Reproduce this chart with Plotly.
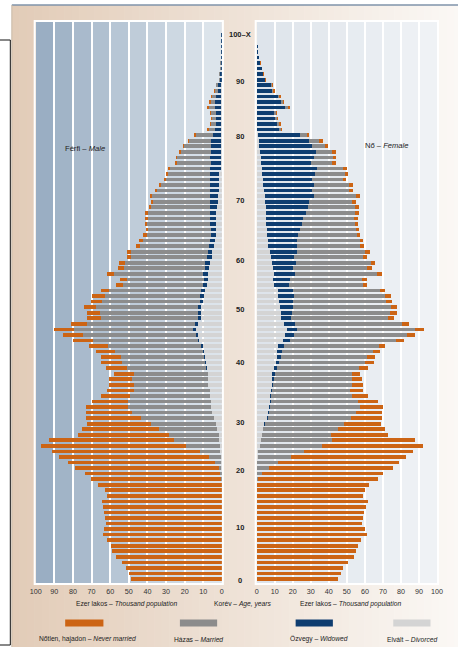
import plotly.graph_objects as go

W_FIG, H = 465, 647
# horizontal correction observed between page pixels and the photographed picture
SX, OX = 0.968, 7.2

ages = list(range(0, 101))
age_tick_text = ["0", "10", "20", "30", "40", "50", "60", "70", "80", "90", "100–X"]
x_ticks = [0, 10, 20, 30, 40, 50, 60, 70, 80, 90, 100]

# Male, thousand persons by age 0..100
male_never = [48.8, 49.7, 51.4, 53.7, 57.0, 58.8, 59.5, 61.5, 64.0, 63.1,
              62.0, 62.7, 63.1, 63.7, 64.6, 61.7, 62.7, 66.5, 70.2, 72.6,
              77.5, 79.2, 80.6, 79.3, 77.8, 66.9, 49.0, 41.3, 34.2, 29.8,
              25.0, 22.6, 19.3, 15.7, 14.5, 13.2, 12.5, 10.8, 11.0, 11.2,
              11.0, 10.3, 10.7, 10.8, 10.7, 10.8, 8.7, 7.2, 7.2, 6.5,
              5.6, 7.1, 4.5, 3.8, 3.4, 3.6, 3.3, 3.3, 2.2, 2.5,
              2.2, 2.2, 1.8, 1.3, 1.4, 1.6, 1.6, 1.3, 1.1, 1.1,
              1.3, 0.9, 1.1, 0.9, 0.9, 0.9, 0.7, 0.9, 0.7, 0.7,
              0.7, 0.7, 0.6, 0.5, 0.6, 0.8, 0.6, 0.5, 0.4, 0.3,
              0.2, 0.1, 0.1, 0.1, 0.05, 0.05, 0.05, 0.0, 0.0, 0.0, 0.0]
male_married = [0, 0, 0, 0, 0, 0, 0, 0, 0, 0,
                0, 0, 0, 0, 0, 0, 0, 0, 0.3, 0.7,
                1.3, 3.2, 6.1, 11.2, 18.3, 24.3, 26.4, 30.9, 35.0, 39.1,
                43.0, 44.7, 44.1, 42.9, 41.0, 40.1, 40.5, 39.4, 42.5, 44.5,
                44.3, 47.0, 49.9, 56.6, 61.1, 64.0, 58.0, 52.4, 52.8, 54.6,
                52.8, 51.0, 49.2, 42.9, 41.8, 47.6, 43.4, 43.0, 40.7, 40.9,
                37.3, 36.0, 34.2, 33.5, 33.5, 33.0, 33.0, 31.5, 30.3, 31.2,
                28.1, 26.1, 23.6, 22.6, 21.6, 18.1, 17.9, 15.9, 14.7, 11.8,
                9.4, 3.4, 2.6, 2.3, 2.4, 3.2, 2.6, 2.1, 1.3, 1.0,
                0.5, 0.4, 0.3, 0.2, 0.15, 0.1, 0.1, 0.1, 0.05, 0.0, 0.0]
male_widowed = [0] * 37 + [
                0.2, 0.3, 0.4,
                0.7, 0.5, 0.7, 0.5, 0.9, 1.4, 1.6, 1.4, 1.3, 1.6,
                1.4, 2.0, 2.2, 2.2, 2.0, 2.9, 2.5, 2.7, 2.7, 2.5,
                2.5, 2.5, 2.7, 2.9, 3.4, 3.6, 3.6, 4.2, 4.3, 4.3,
                5.3, 5.3, 5.1, 5.1, 5.8, 5.4, 5.8, 5.6, 5.4, 5.4,
                4.5, 3.3, 3.0, 2.9, 3.0, 3.5, 3.2, 3.0, 2.1, 1.8,
                1.0, 0.8, 0.6, 0.5, 0.45, 0.4, 0.3, 0.3, 0.25, 0.1, 0.1]
male_divorced = [0, 0, 0, 0, 0, 0, 0, 0, 0, 0,
                 0, 0, 0, 0, 0, 0, 0, 0, 0, 0.1,
                 0.2, 0.4, 0.6, 0.8, 1.0, 1.4, 1.8, 2.7, 3.3, 4.2,
                 5.1, 5.8, 6.1, 6.3, 6.3, 7.2, 7.6, 7.4, 8.2, 8.6,
                 9.0, 9.8, 10.3, 12.1, 12.8, 14.1, 13.0, 11.2, 11.4, 11.2,
                 10.3, 9.8, 9.2, 7.8, 7.4, 7.4, 6.7, 6.5, 5.4, 5.2,
                 4.3, 3.8, 3.4, 3.1, 3.1, 2.9, 2.9, 2.4, 2.2, 2.2,
                 1.3, 1.3, 1.3, 1.3, 0.7, 0.7, 0.4, 0.4, 0.2, 0.2,
                 0.2, 0.4, 0.3, 0.3, 0.3, 0.3, 0.3, 0.2, 0.2, 0.2,
                 0.1, 0.1, 0.1, 0.1, 0.05, 0.05, 0.05, 0.0, 0.0, 0.0, 0.0]

# Female, thousand persons by age 0..100
female_never = [45.2, 46.7, 47.6, 50.4, 53.7, 55.2, 55.9, 58.1, 60.9, 60.2,
                58.5, 59.1, 59.4, 60.4, 61.5, 59.1, 59.8, 62.4, 66.1, 66.9,
                68.5, 66.7, 64.1, 60.2, 55.9, 46.0, 31.7, 25.7, 20.4, 17.2,
                14.4, 13.1, 10.6, 8.9, 7.4, 6.1, 5.4, 4.6, 5.0, 4.8,
                4.3, 4.1, 3.5, 4.1, 4.4, 4.6, 4.4, 3.1, 3.7, 3.7,
                3.0, 3.3, 2.8, 2.4, 2.6, 3.0, 2.6, 2.4, 2.4, 3.0,
                2.0, 1.7, 1.9, 1.7, 1.7, 1.9, 1.9, 1.9, 1.7, 1.9,
                1.9, 2.0, 1.7, 2.0, 2.0, 2.0, 1.9, 2.2, 1.7, 2.0,
                1.3, 0.9, 0.7, 0.7, 0.7, 1.1, 0.7, 0.9, 0.7, 0.6,
                0.5, 0.7, 0.3, 0.2, 0.1, 0.1, 0.0, 0.0, 0.0, 0.0, 0.0]
female_married = [0, 0, 0, 0, 0, 0, 0, 0, 0, 0,
                  0, 0, 0, 0, 0, 0, 0, 0, 0.9, 3.0,
                  6.6, 11.6, 18.3, 25.4, 34.4, 39.6, 38.0, 41.7, 43.8, 45.7,
                  48.0, 49.6, 48.5, 44.6, 43.1, 43.5, 43.3, 42.8, 45.2, 47.8,
                  47.8, 50.4, 52.6, 59.1, 62.8, 65.4, 59.3, 53.7, 54.1, 54.1,
                  51.7, 50.4, 48.0, 41.3, 40.0, 45.4, 40.9, 41.5, 38.0, 37.8,
                  35.4, 35.0, 32.4, 31.1, 29.4, 28.3, 27.4, 25.9, 23.9, 23.7,
                  20.6, 19.3, 17.2, 16.1, 14.3, 11.7, 10.7, 8.9, 7.2, 5.6,
                  3.9, 1.1, 1.1, 1.1, 1.1, 1.3, 0.9, 0.6, 0.6, 0.5,
                  0.2, 0.2, 0.1, 0.1, 0.0, 0.0, 0.0, 0.0, 0.0, 0.0, 0.0]
female_widowed = [0] * 24 + [
                  0.1, 0.1, 0.1, 0.2, 0.4, 0.9,
                  0.6, 0.7, 0.7, 0.7, 0.9, 0.9, 1.1, 1.3, 1.9, 1.9,
                  2.2, 2.4, 3.1, 3.9, 4.6, 5.6, 5.6, 5.7, 6.5, 7.2,
                  7.8, 8.5, 8.5, 8.1, 9.1, 11.5, 11.3, 13.0, 13.0, 15.0,
                  15.6, 16.1, 17.2, 18.1, 19.6, 20.7, 22.0, 23.7, 24.6, 26.9,
                  26.7, 28.3, 27.0, 29.8, 30.6, 28.0, 29.3, 31.0, 29.3, 28.1,
                  23.0, 11.8, 11.1, 9.7, 9.3, 15.4, 13.2, 11.6, 8.5, 7.6,
                  4.5, 3.2, 2.7, 2.0, 1.2, 0.7, 0.5, 0.4, 0.2, 0.1, 0.1]
female_divorced = [0, 0, 0, 0, 0, 0, 0, 0, 0, 0,
                   0, 0, 0, 0, 0, 0, 0, 0, 0, 0.1,
                   0.3, 0.4, 0.6, 0.9, 1.6, 2.3, 3.0, 3.3, 4.3, 5.6,
                   6.5, 6.9, 7.2, 7.4, 7.8, 8.3, 8.5, 8.7, 9.6, 10.6,
                   11.1, 11.5, 12.0, 14.4, 15.9, 16.9, 15.4, 13.5, 13.3, 13.0,
                   12.4, 12.0, 11.7, 9.6, 9.3, 9.6, 8.9, 8.7, 7.8, 7.2,
                   6.5, 6.3, 5.9, 5.7, 5.4, 5.2, 5.2, 5.0, 4.6, 4.6,
                   4.1, 3.7, 3.5, 2.8, 3.0, 2.2, 2.2, 1.9, 1.5, 1.1,
                   0.9, 0.4, 0.3, 0.3, 0.3, 0.4, 0.3, 0.2, 0.2, 0.2,
                   0.1, 0.1, 0.1, 0.0, 0.0, 0.0, 0.0, 0.0, 0.0, 0.0, 0.0]

status_names = ["Elvált – Divorced", "Özvegy – Widowed", "Házas – Married", "Nőtlen, hajadon – Never married"]
status_colors = ["#d4d4d4", "#0e3d70", "#8c8c8c", "#cc6414"]

FONT = "Liberation Sans, Arial, sans-serif"


def px(x):
    # target picture pixel -> paper fraction
    return ((x - OX) / SX) / W_FIG


def py(y):
    return 1 - y / H


def hexmix(c1, c2, t):
    a = [int(c1[i:i + 2], 16) for i in (1, 3, 5)]
    b = [int(c2[i:i + 2], 16) for i in (1, 3, 5)]
    return "#%02x%02x%02x" % tuple(round(a[k] + (b[k] - a[k]) * t) for k in range(3))


fig = go.Figure()

male_series = [male_divorced, male_widowed, male_married, male_never]
female_series = [female_divorced, female_widowed, female_married, female_never]
for name, col, vals in zip(status_names, status_colors, male_series):
    fig.add_trace(go.Bar(y=ages, x=vals, orientation="h", name=name, marker=dict(color=col, line=dict(width=0)),
                         width=0.66, xaxis="x", yaxis="y", showlegend=False))
for name, col, vals in zip(status_names, status_colors, female_series):
    fig.add_trace(go.Bar(y=ages, x=vals, orientation="h", name=name, marker=dict(color=col, line=dict(width=0)),
                         width=0.66, xaxis="x2", yaxis="y2", showlegend=False))

# geometry (target picture pixels)
MX0, MX1 = 36.7, 221.7
FX0, FX1 = 256.3, 435.5
PT, PB = 22.0, 583.0
yr = [-0.72, 100.4]
age_label_y = [580.5, 527, 470, 422, 362, 309, 260, 200, 136, 82, 34]

shapes = []
# beige gradient background
N = 60
x0b, x1b = 13.0, 460.0
for i in range(N):
    xa = x0b + (x1b - x0b) * i / N
    xb = x0b + (x1b - x0b) * (i + 1) / N + 0.6
    shapes.append(dict(type="rect", xref="paper", yref="paper", x0=px(xa), x1=px(xb),
                       y0=0, y1=py(5), fillcolor=hexmix("#e2ccb8", "#fbf8f5", i / (N - 1)),
                       line=dict(width=0), layer="below"))
shapes.append(dict(type="line", xref="paper", yref="paper", x0=px(13), x1=px(460), y0=py(5), y1=py(5),
                   line=dict(color="#7f93aa", width=1.5)))
shapes.append(dict(type="line", xref="paper", yref="paper", x0=px(13), x1=px(13), y0=0, y1=py(5),
                   line=dict(color="#c8b8a8", width=1)))
# left black frame
shapes.append(dict(type="path", xref="paper", yref="paper",
                   path="M %f,%f L %f,%f L %f,%f L %f,%f" % (px(0), py(40), px(11.5), py(40), px(11.5), py(645),
                                                           px(0), py(645)),
                   line=dict(color="#111111", width=1)))

# panel stripes
for k in range(10):
    shapes.append(dict(type="rect", xref="x", yref="paper", x0=100 - 10 * k, x1=90 - 10 * k,
                       y0=py(PB), y1=py(PT), fillcolor=hexmix("#9aaec3", "#dce4eb", k / 9),
                       line=dict(width=0), layer="below"))
    shapes.append(dict(type="rect", xref="x2", yref="paper", x0=10 * k, x1=10 * k + 10,
                       y0=py(PB), y1=py(PT), fillcolor=hexmix("#dee4eb", "#eff2f5", k / 9),
                       line=dict(width=0), layer="below"))
# panel borders
for a, b in ((MX0, MX1), (FX0, FX1)):
    shapes.append(dict(type="rect", xref="paper", yref="paper", x0=px(a - 1), x1=px(b + 1),
                       y0=py(PB + 1), y1=py(PT - 1), line=dict(color="white", width=2), layer="below"))

# legend swatches
leg_x = [(66, 104), (180, 217), (295, 332), (392, 429)]
leg_cols = ["#cc6414", "#8c8c8c", "#0e3d70", "#d4d4d4"]
for (a, b), c in zip(leg_x, leg_cols):
    shapes.append(dict(type="rect", xref="paper", yref="paper", x0=px(a), x1=px(b), y0=py(626.5), y1=py(619.5),
                       fillcolor=c, line=dict(width=0)))

annotations = []
for yy, t in zip(age_label_y, age_tick_text):
    annotations.append(dict(x=px(240), xref="paper", y=py(yy), yref="paper", text="<b>%s</b>" % t,
                            showarrow=False, font=dict(family=FONT, size=7.5, color="#222222"),
                            xanchor="center", yanchor="middle"))


def ann(x, y, text, size=6.7):
    annotations.append(dict(x=px(x), y=py(y), xref="paper", yref="paper", text=text, showarrow=False,
                            font=dict(family=FONT, size=size, color="#222222"), xanchor="center", yanchor="middle"))


ann(126.5, 604, "Ezer lakos – <i>Thousand population</i>")
ann(242.5, 604, "Korév – <i>Age, years</i>")
ann(350, 604, "Ezer lakos – <i>Thousand population</i>")
ann(86, 148, "Férfi – <i>Male</i>", 7.6)
ann(385, 145, "Nő – <i>Female</i>", 7.6)
ann(88, 639, "Nőtlen, hajadon – <i>Never married</i>")
ann(198, 639, "Házas – <i>Married</i>")
ann(318, 639, "Özvegy – <i>Widowed</i>")
ann(411, 639, "Elvált – <i>Divorced</i>")

xcommon = dict(tickvals=x_ticks, ticktext=[str(v) for v in x_ticks], showgrid=True, gridcolor="white",
               gridwidth=2, zeroline=False, ticks="outside", ticklen=1, tickcolor="rgba(0,0,0,0)",
               tickfont=dict(family=FONT, size=7.2, color="#333333"), showline=False, fixedrange=True)
ycommon = dict(range=yr, showgrid=False, zeroline=False, showticklabels=False, showline=False,
               domain=[py(PB), py(PT)], fixedrange=True)

fig.update_layout(
    width=W_FIG, height=H, margin=dict(l=0, r=0, t=0, b=0),
    paper_bgcolor="white", plot_bgcolor="rgba(0,0,0,0)",
    barmode="stack", bargap=0,
    xaxis=dict(range=[100, 0], domain=[px(MX0), px(MX1)], anchor="y", **xcommon),
    xaxis2=dict(range=[0, 100], domain=[px(FX0), px(FX1)], anchor="y2", **xcommon),
    yaxis=dict(anchor="x", **ycommon),
    yaxis2=dict(anchor="x2", **ycommon),
    shapes=shapes, annotations=annotations,
    font=dict(family=FONT),
)

fig.write_html("out.html", config={"displayModeBar": False, "staticPlot": True},
               post_script="document.body.style.margin='0';document.body.style.padding='0';"
                           "document.documentElement.style.overflow='hidden';document.body.style.overflow='hidden';")
